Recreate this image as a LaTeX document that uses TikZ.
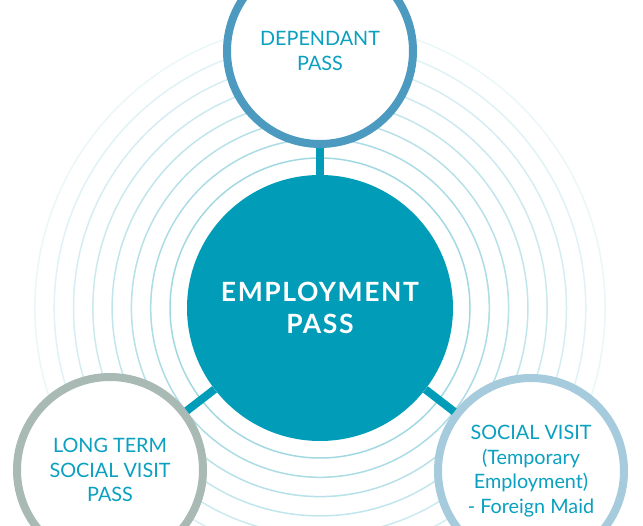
\documentclass[tikz,border=0pt]{standalone}
\usepackage{fontspec}
\setmainfont{Lato}
\newfontfamily\headfont[LetterSpace=6]{Lato}
\usepackage{tikz}
\usetikzlibrary{positioning}
\definecolor{passteal}{HTML}{019DB8}
\definecolor{labeltxt}{HTML}{0AA0C0}
\definecolor{deprim}{HTML}{4C9ABF}
\definecolor{ltrim}{HTML}{A9BAB4}
\definecolor{svrim}{HTML}{A5CBDD}
\definecolor{ringcol}{HTML}{A2D8E2}

\begin{document}
\begin{tikzpicture}[x=1pt, y=-1pt,
  hub/.style={circle, fill=passteal, minimum size=266pt, inner sep=0pt,
              text=white, align=center,
              font=\headfont\bfseries\fontsize{26.5}{32}\selectfont},
  pass/.style={circle, draw=#1, line width=8pt, fill=white, minimum size=186pt,
               inner sep=0pt, text=labeltxt, align=center,
               font=\fontsize{19.8}{24.5}\selectfont},
  link/.style={line width=8pt, passteal}
]
  \useasboundingbox (0,0) rectangle (643,526);

  % rings round the main pass
  \foreach \k in {0,...,7}
    \draw[ringcol!\fpeval{100-11*\k}, line width=1.5pt] (320,308) circle ({150+19.3*\k});

  \node[hub] (ep) at (320,308) {EMPLOYMENT\\PASS};
  \node[pass=deprim] (dp) at (320,51) {DEPENDANT\\PASS};
  \node[pass=ltrim] (ltsvp) at (110,470) {LONG TERM\\SOCIAL VISIT\\PASS};
  \node[pass=svrim] (svp) at (531,471) {SOCIAL VISIT\\(Temporary\\Employment)\\- Foreign Maid};

  \draw[link] (ep) -- (dp);
  \draw[link] (ep) -- (ltsvp);
  \draw[link] (ep) -- (svp);
\end{tikzpicture}
\end{document}
